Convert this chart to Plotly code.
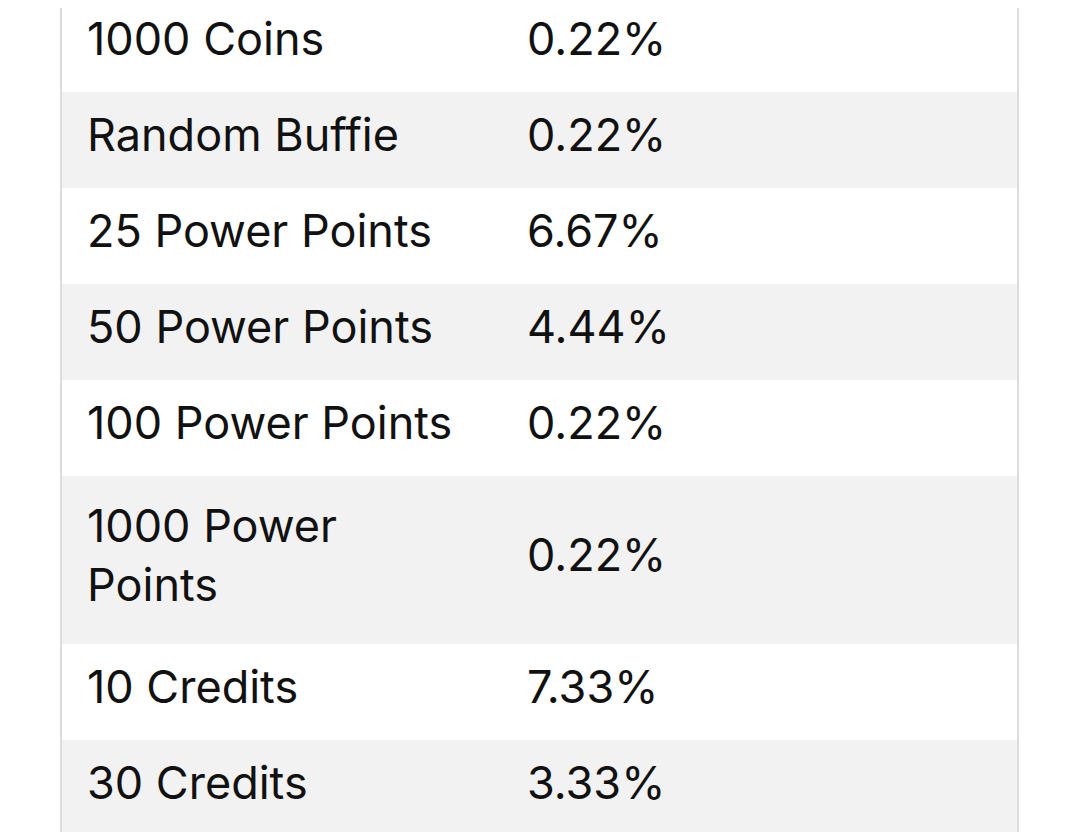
import plotly.graph_objects as go

# table content
items = ["1000 Coins", "Random Buffie", "25 Power Points", "50 Power Points",
         "100 Power Points", "1000 Power<br>Points", "10 Credits", "30 Credits"]
rates = ["0.22%", "0.22%", "6.67%", "4.44%", "0.22%", "0.22%", "7.33%", "3.33%"]

# layout (pixels); page body margin shifts everything by 8px
OFF = 8
ROW_H = [96, 96, 96, 96, 96, 168, 96, 96]
TOP = -4 - OFF
LEFT, RIGHT = 61 - OFF, 1018 - OFF
COL1_X, COL2_X = 87 - OFF, 527 - OFF

tops = []
y = TOP
for h in ROW_H:
    tops.append(y)
    y += h
centers = [t + h / 2 for t, h in zip(tops, ROW_H)]
fills = ['#ffffff' if i % 2 == 0 else '#f2f2f2' for i in range(len(items))]

fig = go.Figure()
fig.add_trace(go.Bar(
    y=centers, x=[RIGHT - LEFT] * len(items), base=LEFT, width=ROW_H,
    orientation='h', marker=dict(color=fills, line=dict(width=0)),
    hoverinfo='skip', showlegend=False,
))
font = dict(family='Inter, Roboto, sans-serif', size=45, color='#111111')
fig.add_trace(go.Scatter(
    x=[COL1_X] * len(items), y=centers, mode='text', text=items,
    textposition='middle right', textfont=font, showlegend=False, hoverinfo='skip',
))
fig.add_trace(go.Scatter(
    x=[COL2_X] * len(rates), y=centers, mode='text', text=rates,
    textposition='middle right', textfont=font, showlegend=False, hoverinfo='skip',
))

for xv in (LEFT, RIGHT):
    fig.add_shape(type='line', x0=xv, x1=xv, y0=-20, y1=840,
                  line=dict(color='#dddddd', width=2))

fig.update_layout(
    width=1080, height=832, margin=dict(l=0, r=0, t=0, b=0),
    paper_bgcolor='white', plot_bgcolor='white', bargap=0,
    xaxis=dict(range=[0, 1080], visible=False, fixedrange=True),
    yaxis=dict(range=[832, 0], visible=False, fixedrange=True),
)
fig.write_html("out.html")
